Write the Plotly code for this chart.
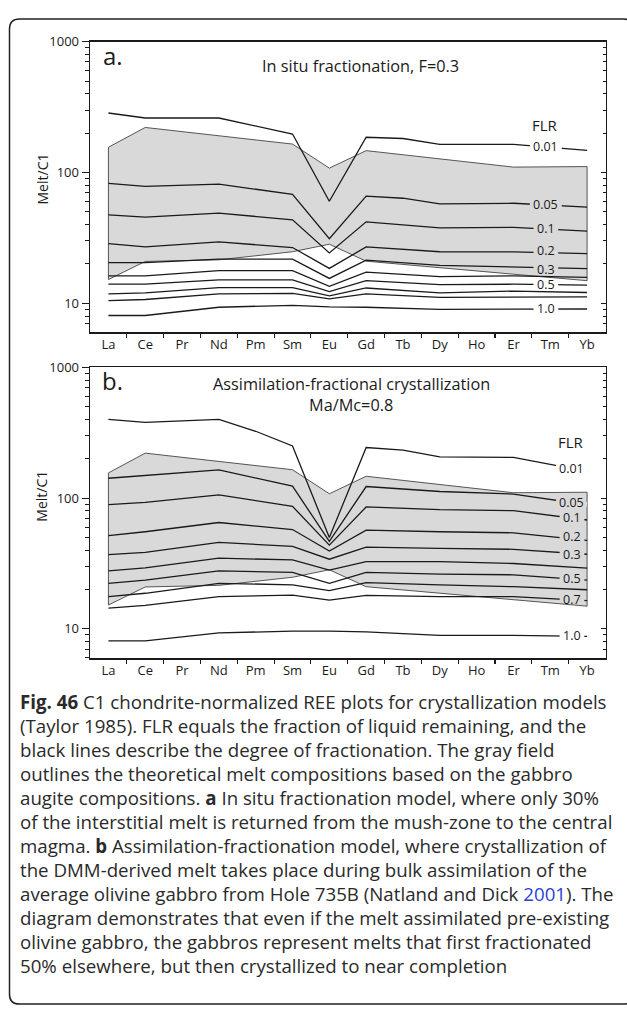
import numpy as np
import plotly.graph_objects as go

W, H = 627, 1014

# ---------------- data ----------------
elements = ["La", "Ce", "Pr", "Nd", "Pm", "Sm", "Eu", "Gd", "Tb", "Dy", "Ho", "Er", "Tm", "Yb"]
flr_levels = ["0.01", "0.05", "0.1", "0.2", "0.3", "0.4", "0.5", "0.6", "0.7", "1.0"]

# gray field: melts in equilibrium with gabbro augite (same in both panels)
field_upper = [156, 221, None, None, None, 165, 108, 147, None, None, None, 110, None, 111]
field_lower = [15.2, 20.9, None, 21.5, None, 24.8, 28.3, 21.0, None, None, None, 16.7, None, 14.9]

# panel a: in situ fractionation, F=0.3
a_flr_001 = [285, 261, None, 261, None, 197, 60.3, 186, 182, 164, None, 164, None, 147.6]
a_flr_005 = [82.6, 78.4, None, 81.6, None, 68.0, 31.2, 66.0, 63.6, 57.5, None, 58.2, None, 54.3]
a_flr_01 = [47.5, 45.6, None, 48.9, None, 43.5, 24.3, 42.0, None, 37.8, None, 38.1, None, 35.7]
a_flr_02 = [28.6, 27.0, None, 29.5, None, 26.7, 18.5, 27.0, None, 24.8, None, 24.7, None, 24.0]
a_flr_03 = [20.5, 20.5, None, 21.8, None, 21.8, 15.5, 21.4, None, 19.5, None, 19.0, None, 18.4]
a_flr_04 = [16.2, 16.2, None, 17.8, None, 17.8, 13.5, 17.3, None, 16.0, None, 16.2, None, 15.8]
a_flr_05 = [14.0, 14.0, None, 15.1, None, 15.1, 12.3, 14.9, None, 13.9, None, 14.0, None, 13.8]
a_flr_06 = [11.8, 12.0, None, 13.2, None, 13.2, 11.4, 13.1, None, 12.0, None, 12.4, None, 12.1]
a_flr_07 = [10.5, 10.7, None, 11.8, None, 11.9, 10.8, 11.8, None, 11.1, None, 11.2, None, 11.2]
a_flr_10 = [8.07, 8.07, None, 9.33, None, 9.66, 9.4, 9.33, None, 9.0, None, 9.0, None, 9.05]

# panel b: assimilation-fractional crystallization, Ma/Mc=0.8
b_flr_001 = [401, 380, None, 401, 325, 251, 50.0, 244, 233, 207, None, 205, None, 160]
b_flr_005 = [142, 148.6, None, 164.4, None, 123.6, 46.7, 122.7, None, 112.4, None, 107.4, None, 89]
b_flr_01 = [89.1, 92.8, None, 106, None, 86.5, 43.7, 85.6, None, 81.6, None, 80.2, None, 68]
b_flr_02 = [51.6, 55.3, None, 65.1, None, 57.5, 39.4, 56.9, None, 55.3, None, 54.3, None, 47.5]
b_flr_03 = [37.0, 38.5, None, 45.8, None, 42.8, 34.1, 42.2, None, 41.3, None, 40.6, None, 37.2]
b_flr_04 = [27.8, 29.3, None, 34.7, None, 33.7, 28.1, 32.7, None, 32.7, None, 31.6, None, 29.1]
b_flr_05 = [22.3, 23.6, None, 27.8, None, 27.0, 22.3, 27.0, None, 26.2, None, 25.9, None, 23.6]
b_flr_06 = [17.6, 18.7, None, 22.3, None, 21.7, 19.6, 22.6, None, 21.7, None, 21.0, None, 19.9]
b_flr_07 = [14.4, 15.1, None, 17.6, None, 18.1, 16.6, 18.0, None, 17.6, None, 17.6, None, 16.4]
b_flr_10 = [8.07, 8.07, None, 9.3, None, 9.6, 9.6, 9.46, None, 8.9, None, 8.9, None, 8.75]

a_lines = [a_flr_001, a_flr_005, a_flr_01, a_flr_02, a_flr_03, a_flr_04, a_flr_05, a_flr_06, a_flr_07, a_flr_10]
b_lines = [b_flr_001, b_flr_005, b_flr_01, b_flr_02, b_flr_03, b_flr_04, b_flr_05, b_flr_06, b_flr_07, b_flr_10]
a_labelled = ["0.01", "0.05", "0.1", "0.2", "0.3", "0.5", "1.0"]
b_labelled = ["0.01", "0.05", "0.1", "0.2", "0.3", "0.5", "0.7", "1.0"]

y_tick_vals = [10, 100, 1000]
y_tick_text = ["10", "100", "1000"]

caption_lines = [
    "<b>Fig. 46</b> C1 chondrite-normalized REE plots for crystallization models",
    "(Taylor 1985). FLR equals the fraction of liquid remaining, and the",
    "black lines describe the degree of fractionation. The gray field",
    "outlines the theoretical melt compositions based on the gabbro",
    "augite compositions. <b>a</b> In situ fractionation model, where only 30%",
    "of the interstitial melt is returned from the mush-zone to the central",
    "magma. <b>b</b> Assimilation-fractionation model, where crystallization of",
    "the DMM-derived melt takes place during bulk assimilation of the",
    "average olivine gabbro from Hole 735B (Natland and Dick <span style='color:#2b3fd6'>2001</span>). The",
    "diagram demonstrates that even if the melt assimilated pre-existing",
    "olivine gabbro, the gabbros represent melts that first fractionated",
    "50% elsewhere, but then crystallized to near completion",
]

# ---------------- layout geometry ----------------
FONT = "Open Sans"
INK = "#1a1a1a"
GRAY = "#d9d9d9"
LBL = 12.5


def px(x):
    return x / W


def py(y):
    return 1 - y / H


X_L, X_R = 90, 605.5
XDOM = [px(X_L), px(X_R)]
XR = [-0.5, 13.5]
A_TOP, A_BOT = 33, 326
B_TOP, B_BOT = 361.7, 655
A_YDOM = [py(A_BOT), py(A_TOP)]
B_YDOM = [py(B_BOT), py(B_TOP)]
A_YR = [0.78, 3.0]
B_YR = [0.775, 3.0]
UNIT_PX = (X_R - X_L) / (XR[1] - XR[0])

idx = list(range(len(elements)))


def pts(vals):
    xs = [i for i, v in zip(idx, vals) if v is not None]
    ys = [v for v in vals if v is not None]
    return xs, ys


def log_at(vals, x):
    xs, ys = pts(vals)
    return float(np.interp(x, xs, np.log10(ys)))


def to_paper(xv, lv, ydom, yr):
    xp = XDOM[0] + (xv - XR[0]) / (XR[1] - XR[0]) * (XDOM[1] - XDOM[0])
    yp = ydom[0] + (lv - yr[0]) / (yr[1] - yr[0]) * (ydom[1] - ydom[0])
    return xp, yp


fig = go.Figure()
shapes = []
annotations = []
label_nudge = {"0.2": 2, "0.3": -2}


def add_panel(lines, labelled, xa, ya_field, ya_lines, ydom, yr, label_x):
    # gray field polygon
    ux, uy = pts(field_upper)
    lx, ly = pts(field_lower)
    fig.add_trace(go.Scatter(
        x=ux + lx[::-1] + [ux[0]], y=uy + ly[::-1] + [uy[0]],
        mode="lines", fill="toself", fillcolor=GRAY,
        line=dict(color="#444444", width=0.9),
        xaxis=xa, yaxis=ya_field, hoverinfo="skip", showlegend=False))
    for name, vals in zip(flr_levels, lines):
        fig.add_trace(go.Scatter(
            x=idx, y=vals, mode="lines", connectgaps=True, name="FLR " + name,
            line=dict(color=INK, width=1.3),
            xaxis=xa, yaxis=ya_lines, hoverinfo="skip", showlegend=False))
    # labels on lines
    for name in labelled:
        vals = lines[flr_levels.index(name)]
        ndig = sum(c.isdigit() for c in name)
        tw = ndig * 0.572 * LBL + 0.27 * LBL
        half = (tw / 2 + 3.5) / UNIT_PX
        x0, x1 = label_x - half, min(label_x + half, 13.0)
        l0, l1, lc = log_at(vals, x0), log_at(vals, x1), log_at(vals, label_x)
        inside = log_at(field_lower, label_x) < lc < log_at(field_upper, label_x)
        p0 = to_paper(x0, l0, ydom, yr)
        p1 = to_paper(x1, l1, ydom, yr)
        pc = to_paper(label_x, lc, ydom, yr)
        shapes.append(dict(type="line", xref="paper", yref="paper",
                           x0=p0[0], y0=p0[1], x1=p1[0], y1=p1[1],
                           line=dict(color=GRAY if inside else "white", width=5),
                           layer="above"))
        annotations.append(dict(xref="paper", yref="paper", x=pc[0], y=pc[1] + 0.5 / H,
                                yshift=label_nudge.get(name, 0),
                                text=name, showarrow=False, xanchor="center", yanchor="middle",
                                font=dict(family=FONT, size=LBL, color=INK)))


add_panel(a_lines, a_labelled, "x", "y", "y3", A_YDOM, A_YR, 11.88)
add_panel(b_lines, b_labelled, "x2", "y2", "y4", B_YDOM, B_YR, 12.59)

minor_vals = [m * 10 ** e for e in range(0, 3) for m in range(2, 10)]

tickfont = dict(family=FONT, size=13, color=INK)


def xaxis_cfg(anchor):
    return dict(domain=XDOM, anchor=anchor, range=XR, tickmode="array",
                tickvals=idx, ticktext=elements, ticks="", ticklen=0,
                minor=dict(tickmode="array", tickvals=[i + 0.5 for i in range(13)],
                           ticks="outside", ticklen=4, tickwidth=1.1, tickcolor=INK,
                           showgrid=False),
                showline=True, mirror=True, linecolor=INK, linewidth=1.4,
                showgrid=False, zeroline=False, tickfont=tickfont, fixedrange=True)


def yaxis_cfg(dom, yr, anchor):
    return dict(domain=dom, anchor=anchor, type="log", range=yr, tickmode="array",
                tickvals=y_tick_vals, ticktext=y_tick_text, ticks="outside", ticklen=7,
                tickwidth=1.2, tickcolor=INK,
                minor=dict(tickmode="array", tickvals=minor_vals, ticks="outside",
                           ticklen=4, tickwidth=1, tickcolor=INK, showgrid=False),
                showline=True, mirror=True, linecolor=INK, linewidth=1.4,
                showgrid=False, zeroline=False, tickfont=tickfont, fixedrange=True)


def yaxis_right(over, yr, anchor):
    return dict(overlaying=over, side="right", anchor=anchor, type="log", range=yr,
                tickmode="array", tickvals=y_tick_vals, ticks="inside", ticklen=5,
                tickwidth=1.2, tickcolor=INK, showticklabels=False,
                minor=dict(tickmode="array", tickvals=minor_vals, ticks="inside",
                           ticklen=3, tickwidth=1, tickcolor=INK, showgrid=False),
                showline=False, showgrid=False, zeroline=False, fixedrange=True)


# texts
def txt(x, y, text, size, **kw):
    d = dict(xref="paper", yref="paper", x=px(x), y=py(y), text=text, showarrow=False,
             xanchor=kw.pop("xanchor", "center"), yanchor=kw.pop("yanchor", "middle"),
             font=dict(family=FONT, size=size, color=kw.pop("color", INK)))
    d.update(kw)
    annotations.append(d)


txt(113, 47, "a.", 24)
txt(360, 58, "In situ fractionation, F=0.3", 16.3)
txt(545, 117, "FLR", 15)
txt(42, 172, "Melt/C1", 14, textangle=-90)

txt(113, 375, "b.", 24)
txt(351, 378, "Assimilation-fractional crystallization", 16.3)
txt(351, 400, "Ma/Mc=0.8", 16.3)
txt(571, 437, "FLR", 15)
txt(42, 492, "Melt/C1", 14, textangle=-90)

for i, line in enumerate(caption_lines):
    txt(18, 699 + 24.2 * i, line, 18.7, xanchor="left", color="#2a2a2a")

# outer rounded frame
L, T, R, B, r = 9.5, 10.0, 633.0, 1004.0, 10.0
path = (f"M {px(L)},{py(B - r)} L {px(L)},{py(T + r)} Q {px(L)},{py(T)} {px(L + r)},{py(T)} "
        f"L {px(R - r)},{py(T)} Q {px(R)},{py(T)} {px(R)},{py(T + r)} "
        f"L {px(R)},{py(B - r)} Q {px(R)},{py(B)} {px(R - r)},{py(B)} "
        f"L {px(L + r)},{py(B)} Q {px(L)},{py(B)} {px(L)},{py(B - r)} Z")
shapes.append(dict(type="path", xref="paper", yref="paper", path=path,
                   line=dict(color="#222222", width=1.5), layer="below"))

fig.update_layout(
    width=W, height=H, margin=dict(l=0, r=0, t=0, b=0),
    paper_bgcolor="white", plot_bgcolor="white", showlegend=False,
    xaxis=xaxis_cfg("y"), yaxis=yaxis_cfg(A_YDOM, A_YR, "x"),
    yaxis3=yaxis_right("y", A_YR, "x"),
    xaxis2=xaxis_cfg("y2"), yaxis2=yaxis_cfg(B_YDOM, B_YR, "x2"),
    yaxis4=yaxis_right("y2", B_YR, "x2"),
    shapes=shapes, annotations=annotations,
    font=dict(family=FONT, color=INK),
)

post = ("document.documentElement.style.margin='0';document.documentElement.style.padding='0';"
        "document.body.style.margin='0';document.body.style.padding='0';"
        "document.body.style.overflow='hidden';"
        "var d=document.getElementById('{plot_id}');"
        "d.style.position='absolute';d.style.top='0px';d.style.left='0px';")

fig.write_html("out.html", config={"displayModeBar": False, "staticPlot": True},
               post_script=post)
